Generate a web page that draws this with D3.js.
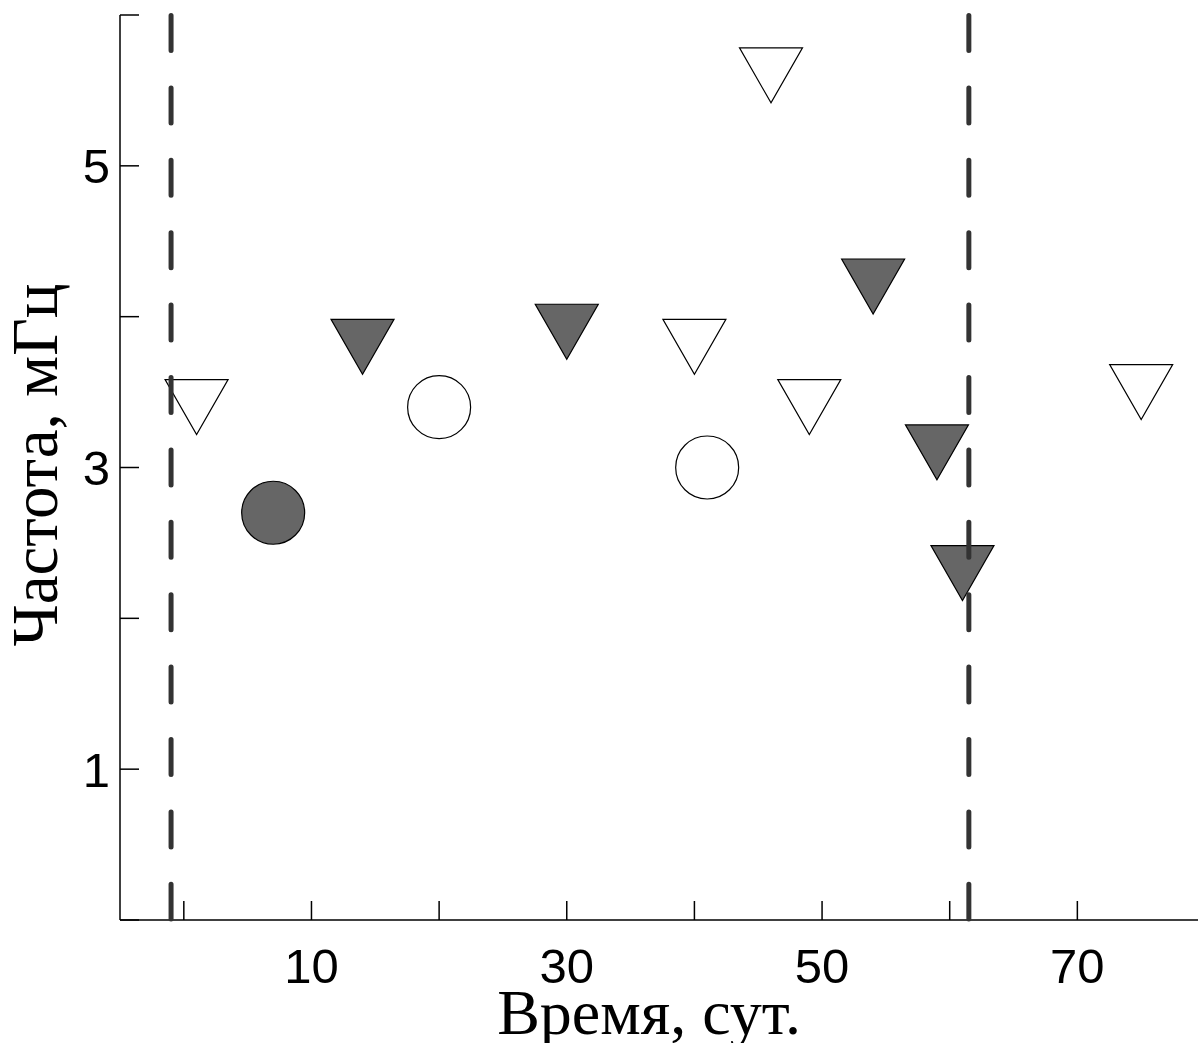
<!DOCTYPE html>
<html>
<head>
<meta charset="utf-8">
<script src="https://cdn.jsdelivr.net/npm/d3@7"></script>
<style>
	body { margin: 0; background: #fff; }
	svg { display: block; }
</style>
</head>
<body>
<svg id="chart" width="1198" height="1043"></svg>
<script>
// data
var openTriX = [1, 40, 46, 49, 75];
var openTriY = [3.4, 3.8, 5.6, 3.4, 3.5];
var darkTriX = [14, 30, 54, 59, 61];
var darkTriY = [3.8, 3.9, 4.2, 3.1, 2.3];
var openCircX = [20, 41];
var openCircY = [3.4, 3.0];
var darkCircX = [7];
var darkCircY = [2.7];
var dashedX = [-1, 61.5];

var xTicks = [0, 10, 20, 30, 40, 50, 60, 70];
var xTickLabels = [10, 30, 50, 70];
var yTicks = [0, 1, 2, 3, 4, 5, 6];
var yTickLabels = [1, 3, 5];

var xTitle = "Время, сут.";
var yTitle = "Частота, мГц";

var svg = d3.select("#chart");

var x = d3.scaleLinear().domain([-5, 80]).range([120, 1205]);
var y = d3.scaleLinear().domain([0, 6]).range([920, 15]);

var darkFill = "#666666";
var triW = 63, triH = 55, rad = 31.5;

function pairs(xs, ys) {
	return xs.map(function(d, i) { return {x: d, y: ys[i]}; });
}

function triPath(d) {
	var cx = x(d.x), cy = y(d.y);
	return "M" + (cx - triW/2) + "," + (cy - triH/2) +
		"L" + (cx + triW/2) + "," + (cy - triH/2) +
		"L" + cx + "," + (cy + triH/2) + "Z";
}

// axes
var axisG = svg.append("g").attr("stroke", "#000").attr("stroke-width", 1.5);
axisG.append("line").attr("x1", x(-5)).attr("x2", 1198).attr("y1", y(0)).attr("y2", y(0));
axisG.append("line").attr("x1", x(-5)).attr("x2", x(-5)).attr("y1", y(0)).attr("y2", y(6));

axisG.selectAll(".xt").data(xTicks).enter().append("line")
	.attr("x1", function(d) { return x(d); })
	.attr("x2", function(d) { return x(d); })
	.attr("y1", y(0)).attr("y2", y(0) - 19);

axisG.selectAll(".yt").data(yTicks).enter().append("line")
	.attr("x1", x(-5)).attr("x2", x(-5) + 19)
	.attr("y1", function(d) { return y(d); })
	.attr("y2", function(d) { return y(d); });

svg.selectAll(".xl").data(xTickLabels).enter().append("text")
	.attr("x", function(d) { return x(d); })
	.attr("y", 983)
	.attr("text-anchor", "middle")
	.attr("font-family", "Liberation Sans, Arial, sans-serif")
	.attr("font-size", 49)
	.text(function(d) { return d; });

svg.selectAll(".yl").data(yTickLabels).enter().append("text")
	.attr("x", 110)
	.attr("y", function(d) { return y(d) + 17.5; })
	.attr("text-anchor", "end")
	.attr("font-family", "Liberation Sans, Arial, sans-serif")
	.attr("font-size", 49)
	.text(function(d) { return d; });

svg.append("text")
	.attr("x", 649).attr("y", 1034)
	.attr("text-anchor", "middle")
	.attr("font-family", "Liberation Serif, Times New Roman, serif")
	.attr("font-size", 64)
	.text(xTitle);

svg.append("text")
	.attr("transform", "translate(57,465) rotate(-90)")
	.attr("text-anchor", "middle")
	.attr("font-family", "Liberation Serif, Times New Roman, serif")
	.attr("font-size", 65)
	.text(yTitle);

// markers
function circles(data, fill) {
	svg.append("g").selectAll("circle").data(data).enter().append("circle")
		.attr("cx", function(d) { return x(d.x); })
		.attr("cy", function(d) { return y(d.y); })
		.attr("r", rad)
		.attr("fill", fill)
		.attr("stroke", "#000")
		.attr("stroke-width", 1.2);
}

function triangles(data, fill) {
	svg.append("g").selectAll("path").data(data).enter().append("path")
		.attr("d", triPath)
		.attr("fill", fill)
		.attr("stroke", "#000")
		.attr("stroke-width", 1.2)
		.attr("stroke-linejoin", "miter");
}

circles(pairs(darkCircX, darkCircY), darkFill);
circles(pairs(openCircX, openCircY), "#fff");
triangles(pairs(openTriX, openTriY), "#fff");
triangles(pairs(darkTriX, darkTriY), darkFill);

// dashed verticals on top
svg.append("g").selectAll("line").data(dashedX).enter().append("line")
	.attr("x1", function(d) { return x(d); })
	.attr("x2", function(d) { return x(d); })
	.attr("y1", 15.5).attr("y2", 919)
	.attr("stroke", "#333")
	.attr("stroke-width", 5)
	.attr("stroke-linecap", "round")
	.attr("stroke-dasharray", "35,37.4");
</script>
</body>
</html>
